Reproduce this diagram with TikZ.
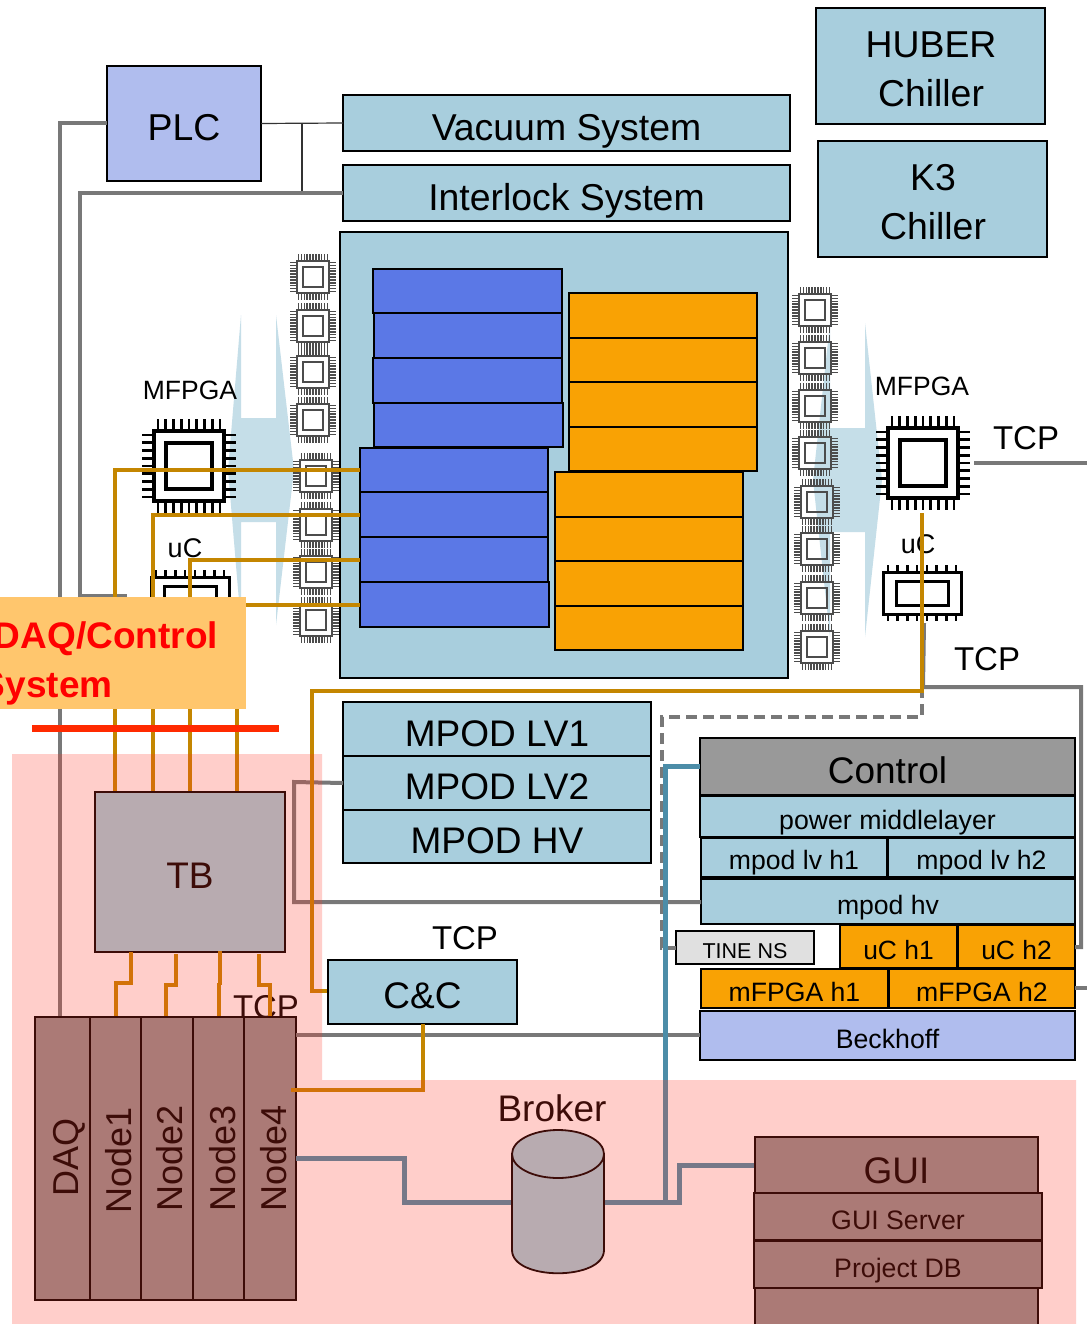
\documentclass[tikz,border=0pt]{standalone}
\usepackage{fontspec}
\setmainfont{Liberation Sans}
\definecolor{lblue}{HTML}{A8CEDD}
\definecolor{pblue}{HTML}{A2D0DC}
\definecolor{periw}{HTML}{B0BDEE}
\definecolor{modblue}{HTML}{5B78E6}
\definecolor{modorange}{HTML}{F9A204}
\definecolor{goldline}{HTML}{C48600}
\definecolor{grayline}{HTML}{787878}
\definecolor{tealline}{HTML}{4C8DA8}
\definecolor{salmon}{HTML}{FFC66D}
\definecolor{ctrlgray}{HTML}{999999}
\definecolor{nodegray}{HTML}{919090}
\definecolor{arrowblue}{HTML}{C5DEE8}
\definecolor{tinegray}{HTML}{E0E0E0}
\definecolor{pinkov}{RGB}{255,54,37}
\definecolor{redbar}{HTML}{FF2A00}
\tikzset{
  boxbase/.style={draw=black,line width=1.8pt,rectangle,inner sep=0pt,outer sep=0pt,text=black},
  bluebox/.style={boxbase,fill=lblue},
  pbox/.style={boxbase,fill=pblue},
  plcbox/.style={boxbase,fill=periw},
  modb/.style={boxbase,fill=modblue},
  modo/.style={boxbase,fill=modorange},
  ctrlbox/.style={boxbase,fill=ctrlgray},
  tinebox/.style={boxbase,fill=tinegray},
  pcbox/.style={boxbase,fill=nodegray},
  goldw/.style={draw=goldline,line width=4pt},
  grayw/.style={draw=grayline,line width=4pt},
  tealw/.style={draw=tealline,line width=5pt},
  thinw/.style={draw=black!80,line width=1.2pt},
  lab/.style={anchor=base,inner sep=0pt,text=black},
}
\newcommand{\fs}[1]{\fontsize{#1}{#1}\selectfont}
% name, x1,y1,x2,y2, baseline, style, fontsize, text
\newcommand{\bx}[9]{%
  \pgfmathsetmacro{\cxv}{(#2+#4)/2}\pgfmathsetmacro{\cyv}{(#3+#5)/2}%
  \pgfmathsetmacro{\wv}{#4-#2}\pgfmathsetmacro{\hv}{#5-#3}%
  \pgfmathsetmacro{\rv}{\cyv-#6}%
  \node[#7,minimum width=\wv pt,minimum height=\hv pt,text height=0pt,text depth=0pt] (#1) at (\cxv,\cyv) {\raisebox{\rv pt}{\fs{#8}#9}};}
% name, cx,cy, body half w, body half h, inner half w, inner half h, pins x, pins y, pin len, line w, colour
\newcommand{\chipdraw}[9]{%
  \def\chn{#1}\def\chx{#2}\def\chy{#3}\def\chw{#4}\def\chh{#5}\def\ciw{#6}\def\cih{#7}\def\cnx{#8}\def\cny{#9}\chipdrawb}
\newcommand{\chipdrawb}[3]{%
  \pgfmathsetmacro{\wvv}{2*\chw}\pgfmathsetmacro{\hvv}{2*\chh}%
  \pgfmathsetmacro{\iwv}{2*\ciw}\pgfmathsetmacro{\ihv}{2*\cih}%
  \node[draw=#3,line width=#2pt,rectangle,inner sep=0pt,minimum width=\wvv pt,minimum height=\hvv pt] (\chn) at (\chx,\chy) {};
  \node[draw=#3,line width=#2pt,rectangle,inner sep=0pt,minimum width=\iwv pt,minimum height=\ihv pt] (\chn-in) at (\chn) {};
  \foreach \i in {1,...,\cnx}{
    \pgfmathsetmacro{\px}{\chx-\chw+(\i-0.5)*2*\chw/\cnx}
    \draw[draw=#3,line width=0.77*#2 pt] (\px,\chy-\chh) -- ++(0,-#1);
    \draw[draw=#3,line width=0.77*#2 pt] (\px,\chy+\chh) -- ++(0,#1);
  }
  \ifnum\cny>0
  \foreach \i in {1,...,\cny}{
    \pgfmathsetmacro{\py}{\chy-\chh+(\i-0.5)*2*\chh/\cny}
    \draw[draw=#3,line width=0.77*#2 pt] (\chx-\chw,\py) -- ++(-#1,0);
    \draw[draw=#3,line width=0.77*#2 pt] (\chx+\chw,\py) -- ++(#1,0);
  }
  \fi
}
\newcommand{\smchip}[3]{\chipdraw{#1}{#2}{#3}{16}{16}{10}{10}{11}{11}{7}{1.9}{black!70}}
\begin{document}
\begin{tikzpicture}[x=1pt,y=-1pt]
\clip (0,0) rectangle (1087,1324);
\fill[white] (0,0) rectangle (1087,1324);

% light-blue double arrows
\fill[arrowblue] (228,470) -- (241,315) -- (241,418) -- (276,418) -- (276,315) -- (294,470) -- (276,625) -- (276,522) -- (241,522) -- (241,625) -- cycle;
\fill[arrowblue] (813,480) -- (830,323) -- (830,428) -- (865,428) -- (865,323) -- (882,480) -- (865,637) -- (865,532) -- (830,532) -- (830,637) -- cycle;

% top boxes
\bx{huber}{816}{8}{1045}{124}{0}{bluebox}{37}{}
\bx{kthree}{818}{141}{1047}{257}{0}{bluebox}{37}{}
\node[lab] (huberA) at (931,58) {\fs{37.4}HUBER};
\node[lab] (huberB) at (931,107) {\fs{37.4}Chiller};
\node[lab] (kA) at (933,191) {\fs{37.4}K3};
\node[lab] (kB) at (933,240) {\fs{37.4}Chiller};
\bx{plc}{107}{66}{261}{181}{141}{plcbox}{37.4}{PLC}
\bx{vac}{343}{95}{790}{151}{141}{bluebox}{37.4}{Vacuum System}
\bx{inter}{343}{165}{790}{221}{211}{bluebox}{37.4}{Interlock System}

% main box and modules
\bx{main}{340}{232}{788}{678}{0}{bluebox}{10}{}
\bx{bu1}{373}{269}{562}{313}{0}{modb}{10}{}
\bx{bu2}{374}{313}{562}{358}{0}{modb}{10}{}
\bx{bu3}{373}{358}{562}{403}{0}{modb}{10}{}
\bx{bu4}{374}{403}{563}{447}{0}{modb}{10}{}
\bx{bl1}{360}{448}{548}{492}{0}{modb}{10}{}
\bx{bl2}{360}{492}{548}{537}{0}{modb}{10}{}
\bx{bl3}{360}{537}{548}{582}{0}{modb}{10}{}
\bx{bl4}{360}{582}{549}{627}{0}{modb}{10}{}
\bx{ou1}{569}{293}{757}{338}{0}{modo}{10}{}
\bx{ou2}{569}{338}{757}{382}{0}{modo}{10}{}
\bx{ou3}{569}{382}{757}{427}{0}{modo}{10}{}
\bx{ou4}{569}{427}{757}{471}{0}{modo}{10}{}
\bx{ol1}{555}{472}{743}{517}{0}{modo}{10}{}
\bx{ol2}{555}{517}{743}{561}{0}{modo}{10}{}
\bx{ol3}{555}{561}{743}{606}{0}{modo}{10}{}
\bx{ol4}{555}{606}{743}{650}{0}{modo}{10}{}

% chips
\smchip{cl1}{313}{277}\smchip{cl2}{313}{326}\smchip{cl3}{313}{372}\smchip{cl4}{313}{420}
\smchip{cl5}{316}{476}\smchip{cl6}{316}{525}\smchip{cl7}{316}{572}\smchip{cl8}{316}{620}
\smchip{cr1}{815}{310}\smchip{cr2}{815}{358}\smchip{cr3}{815}{406}\smchip{cr4}{815}{453}
\smchip{cr5}{817}{502}\smchip{cr6}{817}{549}\smchip{cr7}{817}{598}\smchip{cr8}{817}{647}
\chipdraw{mfl}{189}{466}{35}{35}{23}{23}{9}{9}{12}{3.4}{black}
\chipdraw{mfr}{923}{463}{35}{35}{23}{23}{9}{9}{12}{3.4}{black}
\chipdraw{ucl}{190}{598}{39}{21}{26}{12}{8}{0}{7}{3}{black}
\chipdraw{ucr}{922}{593}{39}{21}{26}{12}{8}{0}{7}{3}{black}
\node[lab] (mfllab) at (190,399) {\fs{26.5}MFPGA};
\node[lab] (mfrlab) at (922,395) {\fs{26.5}MFPGA};
\node[lab] (ucllab) at (185,557) {\fs{27}uC};
\node[lab] (ucrlab) at (918,553) {\fs{27}uC};

% lower-right stack
\bx{mlv1}{343}{702}{651}{756}{746}{bluebox}{37}{MPOD LV1}
\bx{mlv2}{343}{756}{651}{810}{799}{bluebox}{37}{MPOD LV2}
\bx{mhv}{343}{810}{651}{863}{853}{bluebox}{37}{MPOD HV}
\bx{control}{700}{738}{1075}{795}{783}{ctrlbox}{37}{Control}
\bx{pml}{700}{796}{1075}{837}{829}{bluebox}{26.7}{power middlelayer}
\bx{lvone}{701}{838}{887}{877}{869}{bluebox}{26.6}{mpod lv h1}
\bx{lvtwo}{888}{838}{1075}{877}{869}{bluebox}{26.6}{mpod lv h2}
\bx{hv}{701}{879}{1075}{924}{914}{bluebox}{26.6}{mpod hv}
\bx{tine}{676}{931}{814}{964}{958}{tinebox}{21.5}{TINE NS}
\bx{ucone}{840}{925}{957}{968}{959}{modo}{26.4}{uC h1}
\bx{uctwo}{958}{925}{1075}{968}{959}{modo}{26.4}{uC h2}
\bx{mfone}{701}{969}{888}{1008}{1001}{modo}{26.6}{mFPGA h1}
\bx{mftwo}{889}{969}{1075}{1008}{1001}{modo}{26.6}{mFPGA h2}
\bx{beck}{700}{1011}{1075}{1060}{1048}{plcbox}{26.7}{Beckhoff}

% connector coordinates
\coordinate (j1) at (302,123);
\coordinate (tb1) at (115,792);
\coordinate (tb2) at (153,792);
\coordinate (tb3) at (190,792);
\coordinate (tb4) at (237,797);
\coordinate (lplc) at (60,1017);
\coordinate (lint) at (127,596);
\coordinate (goldtop) at (922,513);
\coordinate (grayj) at (923,687);
\coordinate (ccw) at (328,991);
\coordinate (hvw) at (701,902);
\coordinate (tinew) at (676,948);
\coordinate (ctrlj) at (665,766);
\coordinate (ucrb) at (924,623);
\coordinate (uctwoe) at (1075,947);
\coordinate (mfre) at (974,463);
\coordinate (outa) at (1087,463);
\coordinate (outb) at (1087,988);
\coordinate (mftwoe) at (1075,988);

% thin and grey lines
\draw[thinw] (plc.east) -- (vac.west);
\draw[thinw] (j1) -- (j1 |- inter.west);
\draw[grayw] (plc.west) -| (lplc);
\draw[grayw] (inter.west) -| (80,596) -- (lint);
\draw[grayw] (mfre) -- (outa);
\draw[grayw] (ucrb) -- (grayj) -- (1081,687) |- (uctwoe);
\draw[grayw,dashed,dash pattern=on 11pt off 6pt] (922,687) -- (922,717) -- (662,717) |- (tinew);
\draw[grayw] (mlv2.west) -- (294,782) |- (hvw);
\draw[grayw] (mftwoe) -- (outb);

% gold lines
\draw[goldw] (tb1) |- (bl1.west);
\draw[goldw] (tb2) |- (bl2.west);
\draw[goldw] (tb3) |- (bl3.west);
\draw[goldw] (tb4) |- (bl4.west);
\draw[goldw] (goldtop) -- (922,691) -- (312,691) |- (ccw);

% orange DAQ box and red bar
\node[rectangle,fill=salmon,inner sep=0pt,minimum height=112pt,text width=252pt,align=left,text=red,font=\bfseries\fontsize{37}{49}\selectfont] (daqctl) at (120,653) {\rule{0pt}{47pt}DAQ/Control\\\hspace*{-13pt}System};
\coordinate (barl) at (32,728);
\coordinate (barr) at (279,728);
\draw[draw=redbar,line width=7pt] (barl) -- (barr);

% TB, C&C, labels
\node[lab] (tcpa) at (1026,449) {\fs{33}TCP};
\node[lab] (tcpb) at (987,670) {\fs{33}TCP};
\node[lab] (tcpc) at (465,949) {\fs{33}TCP};
\node[lab] (tcpd) at (266,1018) {\fs{33}TCP};
\bx{tb}{95}{792}{285}{952}{888}{pbox}{37}{TB}
\bx{cc}{328}{960}{517}{1024}{1008}{bluebox}{37}{C\&C}

% lower connectors
\coordinate (nb1) at (116,1017);\coordinate (nb2) at (166,1017);\coordinate (nb3) at (219,1017);\coordinate (nb4) at (270,1017);
\draw[goldw] (131,952) -- (131,983) -- (116,983) -- (nb1);
\draw[goldw] (176,954) -- (176,985) -- (166,985) -- (nb2);
\draw[goldw] (220,951) -- (220,985);
\draw[goldw] (219,983) -- (nb3);
\draw[goldw] (259,954) -- (259,985) -- (270,985) -- (nb4);

% nodes
\bx{daq}{35}{1017}{90}{1300}{0}{pcbox}{10}{}
\bx{n1}{90}{1017}{141}{1300}{0}{pcbox}{10}{}
\bx{n2}{141}{1017}{193}{1300}{0}{pcbox}{10}{}
\bx{n3}{193}{1017}{244}{1300}{0}{pcbox}{10}{}
\bx{n4}{244}{1017}{296}{1300}{0}{pcbox}{10}{}
\node[anchor=center,inner sep=0pt] (daqt) at (69,1157) {\rotatebox{90}{\fs{36}DAQ}};
\node[anchor=center,inner sep=0pt] (n1t) at (119,1160) {\rotatebox{90}{\fs{36}Node1}};
\node[anchor=center,inner sep=0pt] (n2t) at (170,1158) {\rotatebox{90}{\fs{36}Node2}};
\node[anchor=center,inner sep=0pt] (n3t) at (223,1158) {\rotatebox{90}{\fs{36}Node3}};
\node[anchor=center,inner sep=0pt] (n4t) at (274,1158) {\rotatebox{90}{\fs{36}Node4}};

\coordinate (n4e) at (296,1035);
\coordinate (beckw) at (700,1035);
\draw[grayw] (n4e) -- (beckw);
\coordinate (n4g) at (291,1090);
\draw[goldw] (cc.south) -- (cc.south |- n4g) -- (n4g);

% broker
\node[rectangle,inner sep=0pt,outer sep=0pt,minimum width=92pt,minimum height=143pt] (broker) at (558,1202) {};
\coordinate (n4m) at (296,1158);
\coordinate (guiw) at (755,1165);
\draw[tealw] (n4m) -- (404,1158) |- (broker.west);
\draw[tealw] (broker.east) -- (679,1202) |- (guiw);
\draw[tealw] (control.west |- ctrlj) -- (ctrlj) -- (665,1202);
\draw[draw=black,line width=1.8pt,fill=pblue] (512,1154) -- (512,1250) .. controls (512,1281) and (604,1281) .. (604,1250) -- (604,1154) -- cycle;
\draw[draw=black,line width=1.8pt,fill=pblue] (558,1154) ellipse [x radius=46pt,y radius=24pt];
\node[lab] (brokerlab) at (552,1121) {\fs{37}Broker};

% GUI
\bx{gbot}{755}{1288}{1038}{1345}{0}{pcbox}{10}{}
\bx{gui}{755}{1137}{1038}{1193}{1183}{pcbox}{37}{GUI}
\bx{guis}{754}{1193}{1042}{1240}{1229}{pcbox}{26.7}{GUI Server}
\bx{pdb}{754}{1241}{1042}{1288}{1277}{pcbox}{26.7}{Project DB}

% translucent pink region
\fill[pinkov,opacity=0.24] (12,754) -- (322,754) -- (322,1080) -- (1076,1080) -- (1076,1324) -- (12,1324) -- cycle;
\end{tikzpicture}
\end{document}
